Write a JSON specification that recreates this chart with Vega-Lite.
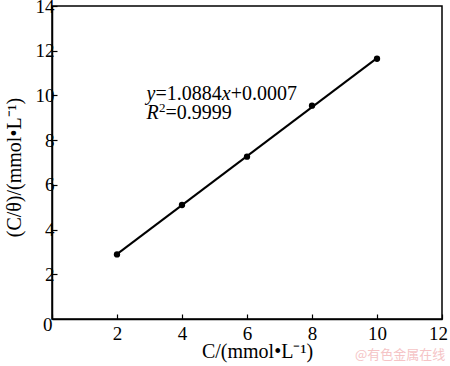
{
  "$schema": "https://vega.github.io/schema/vega-lite/v6.json",
  "width": 390,
  "height": 313,
  "autosize": {"type": "none"},
  "padding": {"left": 52, "top": 6, "right": 8, "bottom": 47},
  "background": "white",
  "config": {
    "font": "Liberation Serif",
    "text": {"font": "Liberation Serif"},
    "view": {"stroke": "black", "strokeWidth": 1.5},
    "axis": {
      "grid": false,
      "domainColor": "black",
      "domainWidth": 1.5,
      "tickColor": "black",
      "tickWidth": 1.2,
      "tickSize": -5,
      "labelColor": "black",
      "labelFont": "Liberation Serif",
      "labelFontSize": 19,
      "titleFont": "Liberation Serif",
      "titleFontSize": 20,
      "titleFontWeight": "normal",
      "titleColor": "black"
    }
  },
  "layer": [
    {
      "data": {"values": [{"x": 2, "y": 2.9}, {"x": 10, "y": 11.67}]},
      "mark": {"type": "line", "color": "black", "strokeWidth": 2},
      "encoding": {
        "x": {"field": "x", "type": "quantitative", "scale": {"domain": [0, 12], "nice": false, "zero": false},
          "axis": {"values": [0, 2, 4, 6, 8, 10, 12], "title": "C/(mmol•L⁻¹)", "labelPadding": 10, "titlePadding": -2, "titleX": 205,
            "labelAlign": {"condition": {"test": "datum.value == 0", "value": "right"}, "value": "center"},
            "labelOffset": {"condition": {"test": "datum.value == 12", "value": -4}, "value": 0},
            "labelBaseline": {"condition": {"test": "datum.value == 0", "value": "middle"}, "value": "top"}}},
        "y": {"field": "y", "type": "quantitative", "scale": {"domain": [0, 14], "nice": false, "zero": false},
          "axis": {"values": [2, 4, 6, 8, 10, 12, 14], "title": "(C/θ)/(mmol•L⁻¹)", "labelPadding": 3, "titlePadding": 11, "titleY": 161}}
      }
    },
    {
      "data": {"values": [
        {"x": 2, "y": 2.89}, {"x": 4, "y": 5.1}, {"x": 6, "y": 7.26}, {"x": 8, "y": 9.54}, {"x": 10, "y": 11.64}
      ]},
      "mark": {"type": "circle", "color": "black", "size": 40, "opacity": 1},
      "encoding": {
        "x": {"field": "x", "type": "quantitative"},
        "y": {"field": "y", "type": "quantitative"}
      }
    },
    {
      "data": {"values": [{"x": 2.91, "y": 9.79, "t": "y"}, {"x": 2.91, "y": 8.95, "t": "R"}]},
      "mark": {"type": "text", "align": "left", "baseline": "alphabetic", "fontSize": 20, "fontStyle": "italic", "color": "black"},
      "encoding": {"x": {"field": "x", "type": "quantitative"}, "y": {"field": "y", "type": "quantitative"}, "text": {"field": "t"}}
    },
    {
      "data": {"values": [{"x": 2.91, "y": 9.79, "t": "=1.0884"}]},
      "mark": {"type": "text", "align": "left", "baseline": "alphabetic", "fontSize": 20, "dx": 8.9, "color": "black"},
      "encoding": {"x": {"field": "x", "type": "quantitative"}, "y": {"field": "y", "type": "quantitative"}, "text": {"field": "t"}}
    },
    {
      "data": {"values": [{"x": 2.91, "y": 9.79, "t": "x"}]},
      "mark": {"type": "text", "align": "left", "baseline": "alphabetic", "fontSize": 20, "fontStyle": "italic", "dx": 75.2, "color": "black"},
      "encoding": {"x": {"field": "x", "type": "quantitative"}, "y": {"field": "y", "type": "quantitative"}, "text": {"field": "t"}}
    },
    {
      "data": {"values": [{"x": 2.91, "y": 9.79, "t": "+0.0007"}]},
      "mark": {"type": "text", "align": "left", "baseline": "alphabetic", "fontSize": 20, "dx": 84.1, "color": "black"},
      "encoding": {"x": {"field": "x", "type": "quantitative"}, "y": {"field": "y", "type": "quantitative"}, "text": {"field": "t"}}
    },
    {
      "data": {"values": [{"x": 2.91, "y": 8.95, "t": "2"}]},
      "mark": {"type": "text", "align": "left", "baseline": "alphabetic", "fontSize": 13, "dx": 12.4, "dy": -7, "color": "black"},
      "encoding": {"x": {"field": "x", "type": "quantitative"}, "y": {"field": "y", "type": "quantitative"}, "text": {"field": "t"}}
    },
    {
      "data": {"values": [{"x": 2.91, "y": 8.95, "t": "=0.9999"}]},
      "mark": {"type": "text", "align": "left", "baseline": "alphabetic", "fontSize": 20, "dx": 19, "color": "black"},
      "encoding": {"x": {"field": "x", "type": "quantitative"}, "y": {"field": "y", "type": "quantitative"}, "text": {"field": "t"}}
    },
    {
      "data": {"values": [{"x": 10.71, "y": -1.61, "t": "@有色金属在线"}]},
      "mark": {"type": "text", "align": "center", "baseline": "middle", "fontSize": 13, "font": "Noto Sans CJK SC", "letterSpacing": 0.5, "color": "#f5c4c6"},
      "encoding": {"x": {"field": "x", "type": "quantitative"}, "y": {"field": "y", "type": "quantitative"}, "text": {"field": "t"}}
    }
  ]
}
